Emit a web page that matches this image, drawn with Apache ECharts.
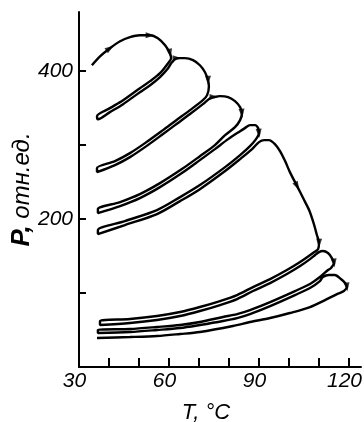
<!DOCTYPE html>
<html>
<head>
<meta charset="utf-8">
<script src="https://cdn.jsdelivr.net/npm/echarts@6/dist/echarts.min.js"></script>
<style>
  html, body { margin: 0; padding: 0; background: #fff; }
  #chart { width: 364px; height: 422px; }
</style>
</head>
<body>
<div id="chart"></div>
<script>
// T (°C) vs P (отн.ед.), heating/cooling cycles, in path order
const heat1 = [[34.3,408],[37,420],[40.3,431],[43.7,440.5],[47,446],[50.3,448.6],[53.7,448.6],[56.3,444.6],[58.7,435],[60.3,424.3],[60.7,417.6]];
const cool1 = [[59.7,410.8],[57,397.3],[53.7,386.5],[50.3,377],[44.7,360.8],[40.3,350],[36,339.2]];
const reheat1 = [[36.3,335],[40.3,344.6],[44.7,355.4],[50.3,371.6],[53.7,381],[57,392],[59.7,404],[61,412]];
const arc2 = [[62.7,417.6],[65.3,417.6],[68,415],[70.3,408],[72,398.6],[73,387.8],[73.3,379.7],[72.7,367.6]];
const cool2 = [[71.3,360.8],[67,347.3],[62,332.4],[58,320.3],[52,302.7],[47,289.2],[42,278.4],[36,269]];
const reheat2 = [[36,263.5],[42,273],[47,283.8],[52,297.3],[58,315],[62,327],[67,342],[71.3,355.4],[73.7,363.5]];
const arc3 = [[75,365],[77,366.2],[79.7,365],[82,359.5],[83.7,351.4],[84.3,343.2],[83.7,333.8]];
const cool3 = [[82,324.3],[78.7,313.5],[75.3,300],[70.3,285],[64.3,267.6],[57,248.6],[50.3,233.8],[43.7,223],[36.3,213.5]];
const reheat3 = [[36.3,208.1],[43.7,217.6],[50.3,228.4],[57,243.2],[64.3,262.2],[70.3,279.7],[75.3,294.6],[79.7,308.1],[83.7,318.9]];
const arc4 = [[85.3,323],[87,327],[88.7,327],[89.7,323],[90,316.2],[89,308.1]];
const cool4 = [[87,298.6],[83.7,286.5],[78.7,270.3],[70.3,246],[63.7,229.7],[56,212.2],[45.3,197.3],[36.3,185.1]];
const reheat4 = [[36.3,179.7],[45.3,191.9],[56,206.8],[63.7,224.3],[70.3,240.5],[78.7,265],[83.7,281.1],[87.7,294.6]];
const big5 = [[90,304.1],[91.7,306.8],[93.3,306.8],[95.3,301.4],[97,291.9],[98.7,278.4],[100.3,263.5],[102.7,244.6],[104.7,228.4],[106.7,212.2],[108.3,193.2],[109.3,178.4],[110,167.6],[109.7,159.5]];
const cool5 = [[108,154.1],[103.7,141.9],[99.3,131.1],[93.7,118.9],[88,108.1],[82.7,97.3],[77,89.2],[70.3,81.1],[63.7,74.3],[56,68.9],[47,64.9],[37,62.2]];
const reheat5 = [[37,56.8],[47,59.5],[56,63.5],[63.7,68.9],[70.3,75.7],[77,83.8],[82.7,91.9],[88,102.7],[93.7,113.5],[99.3,125.7],[103.7,136.5],[107,145.9]];
const arc6 = [[108.7,151.4],[110,155.4],[111.3,156.8],[113,154.1],[114.3,147.3],[115,140.5],[114,133.8]];
const cool6 = [[113,131.1],[110.3,121.6],[107,112.2],[102,102.7],[93.7,87.8],[87,77],[82.7,71.6],[78,67.6],[70.3,60.8],[63.7,56.8],[56,54.1],[47,51.4],[36.3,50]];
const reheat6 = [[36.3,45.9],[47,47.3],[56,50],[63.7,52.7],[70.3,56.8],[78,62.2],[82.7,66.2],[87,71.6],[93.7,82.4],[102,97.3],[107,106.8],[110.3,116.2]];
const arc7 = [[111.3,121.6],[113.3,124.3],[115.3,124.3],[117.3,118.9],[118.7,113.5],[119.3,108.1],[118.3,102.7]];
const cool7 = [[116,98.6],[112,90.5],[107,81.1],[100.3,73],[93.7,66.2],[87,60.8],[81.3,55.4],[70.3,47.3],[63.7,44.6],[56,41.9],[47,40.5],[36,39.2]];

// arrowheads: [T, P, rotation in degrees]
const arrows = [
  [40.3,431,-55],[53.7,448.6,-90],[60.3,424.3,-170],
  [62.7,417.6,-90],[73,387.8,180],[75,365,-90],[84.3,343.2,185],
  [90,316.2,185],[102.7,244.6,-153],[110,167.6,178],
  [115,140.5,185],[119.3,108.1,185]
];

const xTicks = [40, 50, 60, 70, 80, 90, 100, 110, 120];
const xLabels = [30, 60, 90, 120];
const yTicks = [100, 200, 300, 400];
const yLabels = [200, 400];

const path = [].concat(heat1, cool1, reheat1, arc2, cool2, reheat2, arc3, cool3, reheat3,
  arc4, cool4, reheat4, big5, cool5, reheat5, arc6, cool6, reheat6, arc7, cool7);

const chart = echarts.init(document.getElementById('chart'));
const font = '"Liberation Sans", Arial, sans-serif';

chart.setOption({
  animation: false,
  backgroundColor: '#fff',
  grid: { left: 79, top: 12, right: 3, bottom: 55, containLabel: false, outerBoundsMode: 'none' },
  xAxis: {
    type: 'value',
    min: 30,
    max: 124,
    name: 'T, °C',
    nameLocation: 'middle',
    nameGap: 35,
    nameMoveOverlap: false,
    nameTextStyle: { color: '#000', fontFamily: font, fontStyle: 'italic', fontSize: 22, padding: [0, 28, 0, 0] },
    axisLine: { show: true, onZero: false, lineStyle: { color: '#000', width: 2 } },
    axisTick: { show: true, inside: true, length: 9, customValues: xTicks, lineStyle: { color: '#000', width: 2 } },
    axisLabel: {
      customValues: xLabels, color: '#000', fontFamily: font, fontStyle: 'italic',
      fontSize: 21, margin: 4, padding: [0, 9, 0, 0]
    },
    splitLine: { show: false }
  },
  yAxis: {
    type: 'value',
    min: 0,
    max: 480,
    name: '{p|P,} отн.ед.',
    nameLocation: 'middle',
    nameGap: 44,
    nameMoveOverlap: false,
    nameTextStyle: {
      color: '#000', fontFamily: font, fontStyle: 'italic', fontSize: 24,
      rich: { p: { fontFamily: font, fontStyle: 'italic', fontWeight: 'bold', fontSize: 26, color: '#000' } }
    },
    axisLine: { show: true, onZero: false, lineStyle: { color: '#000', width: 2 } },
    axisTick: { show: true, inside: true, length: 7, customValues: yTicks, lineStyle: { color: '#000', width: 2 } },
    axisLabel: { customValues: yLabels, color: '#000', fontFamily: font, fontStyle: 'italic', fontSize: 21, margin: 6 },
    splitLine: { show: false }
  },
  series: [
    {
      type: 'line',
      data: path,
      showSymbol: false,
      smooth: 0.3,
      lineStyle: { color: '#000', width: 2.4 }
    },
    {
      type: 'scatter',
      data: arrows,
      symbol: 'triangle',
      symbolSize: [6, 9],
      symbolRotate: v => v[2],
      itemStyle: { color: '#000' }
    }
  ]
});
</script>
</body>
</html>
